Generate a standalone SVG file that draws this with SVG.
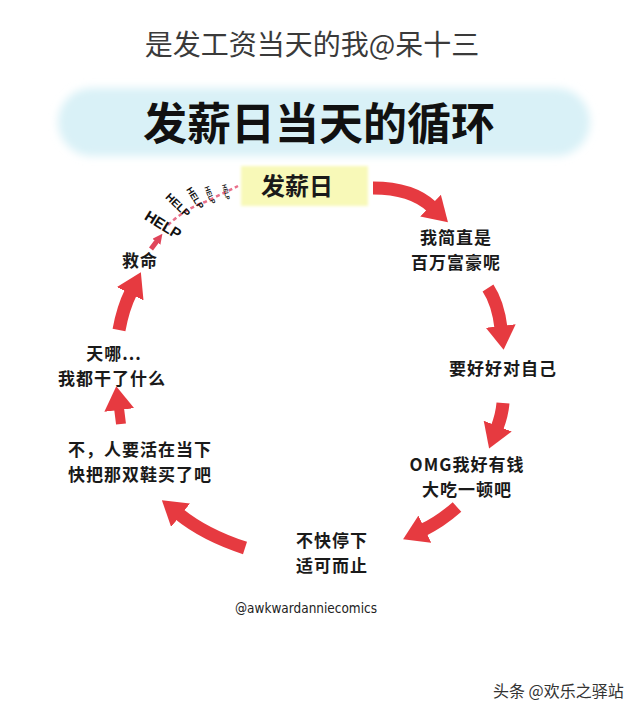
<svg xmlns="http://www.w3.org/2000/svg" width="640" height="713" viewBox="0 0 640 713">
<style>
  text { font-family: "Noto Sans CJK SC", "Noto Sans", sans-serif; fill: #1a1a1a; }
  .lbl { font-size: 17px; font-weight: 700; text-anchor: middle; letter-spacing: 1px; }
  .help { font-family: "Liberation Sans", "DejaVu Sans", sans-serif; font-weight: 700; text-anchor: middle; fill: #111; }
  .arrow { fill: none; stroke: #e63a40; stroke-width: 13; stroke-linecap: butt; marker-end: url(#head); }
</style>
<defs>
  <filter id="soft" x="-10%" y="-30%" width="120%" height="160%">
    <feGaussianBlur stdDeviation="4"/>
  </filter>
  <filter id="soft2" x="-10%" y="-30%" width="120%" height="160%">
    <feGaussianBlur stdDeviation="1.5"/>
  </filter>
  <marker id="head" viewBox="0 0 24 30" refX="2" refY="15" markerWidth="24" markerHeight="30" markerUnits="userSpaceOnUse" orient="auto">
    <path d="M0,0 L24,15 L0,30 z" fill="#e63a40"/>
  </marker>
  <marker id="headS" viewBox="0 0 10 10" refX="1" refY="5" markerWidth="10" markerHeight="10" markerUnits="userSpaceOnUse" orient="auto">
    <path d="M0,0 L10,5 L0,10 z" fill="#e0455a"/>
  </marker>
</defs>
<rect width="640" height="713" fill="#ffffff"/>

<g id="subtitle">
  <text x="312" y="55" style="font-size:28px;font-weight:400;fill:#3a3a3a" text-anchor="middle">是发工资当天的我@呆十三</text>
</g>

<g id="title">
  <rect x="58" y="88" width="532" height="68" rx="34" fill="#d9f1f7" filter="url(#soft)"/>
  <text x="319" y="140" style="font-size:44px;font-weight:700;fill:#111" text-anchor="middle">发薪日当天的循环</text>
</g>

<g id="connectors">
  <path class="arrow" d="M373,188 Q412,188 432,207"/>
  <path class="arrow" d="M488,288 Q498,303 501,328"/>
  <path class="arrow" d="M503,403 Q502,415 497,428"/>
  <path class="arrow" d="M457,507 Q440,522 423,530"/>
  <path class="arrow" d="M245,548 Q205,535 179,514"/>
  <path class="arrow" style="stroke-width:10" d="M121,424 L119,408"/>
  <path class="arrow" d="M119,330 Q123,308 131,292"/>
  <path d="M151,249 L157,241" fill="none" stroke="#e0455a" stroke-width="5" marker-end="url(#headS)"/>
  <path d="M163,230 Q182,210 205,202 Q222,194 238,186" fill="none" stroke="#e8708a" stroke-width="2.5" stroke-dasharray="4 3"/>
</g>

<g id="node-payday">
  <rect x="241" y="166" width="127" height="40" fill="#f8f9b8" filter="url(#soft2)"/>
  <text x="297" y="195" style="font-size:24px;font-weight:700" text-anchor="middle">发薪日</text>
</g>

<g id="node-rich">
  <text class="lbl" x="456" y="244">我简直是<tspan x="456" dy="25">百万富豪呢</tspan></text>
</g>

<g id="node-self">
  <text class="lbl" x="503" y="375">要好好对自己</text>
</g>

<g id="node-omg">
  <text class="lbl" x="467" y="471">OMG我好有钱<tspan x="467" dy="25">大吃一顿吧</tspan></text>
</g>

<g id="node-stop">
  <text class="lbl" x="332" y="547">不快停下<tspan x="332" dy="25">适可而止</tspan></text>
</g>

<g id="node-now">
  <text class="lbl" x="140" y="456">不，人要活在当下<tspan x="140" dy="25">快把那双鞋买了吧</tspan></text>
</g>

<g id="node-what">
  <text class="lbl" x="114" y="360">天哪...<tspan x="112" dy="25">我都干了什么</tspan></text>
</g>

<g id="node-help">
  <text class="lbl" x="140" y="267">救命</text>
  <text class="help" transform="translate(163,225) rotate(32)" y="5" style="font-size:15px">HELP</text>
  <text class="help" transform="translate(178,205) rotate(44)" y="4" style="font-size:11px">HELP</text>
  <text class="help" transform="translate(195,198) rotate(58)" y="3" style="font-size:9px">HELP</text>
  <text class="help" transform="translate(210,195) rotate(68)" y="2.5" style="font-size:7px">HELP</text>
  <text class="help" transform="translate(226,192) rotate(76)" y="2" style="font-size:6px">HELP</text>
</g>

<g id="credit">
  <text x="306" y="613" style="font-family:'DejaVu Sans',sans-serif;font-size:14px;fill:#222" text-anchor="middle" textLength="142" lengthAdjust="spacingAndGlyphs">@awkwardanniecomics</text>
</g>

<g id="watermark">
  <text x="493" y="697" style="font-size:16px;fill:#333">头条 @欢乐之驿站</text>
</g>
</svg>
